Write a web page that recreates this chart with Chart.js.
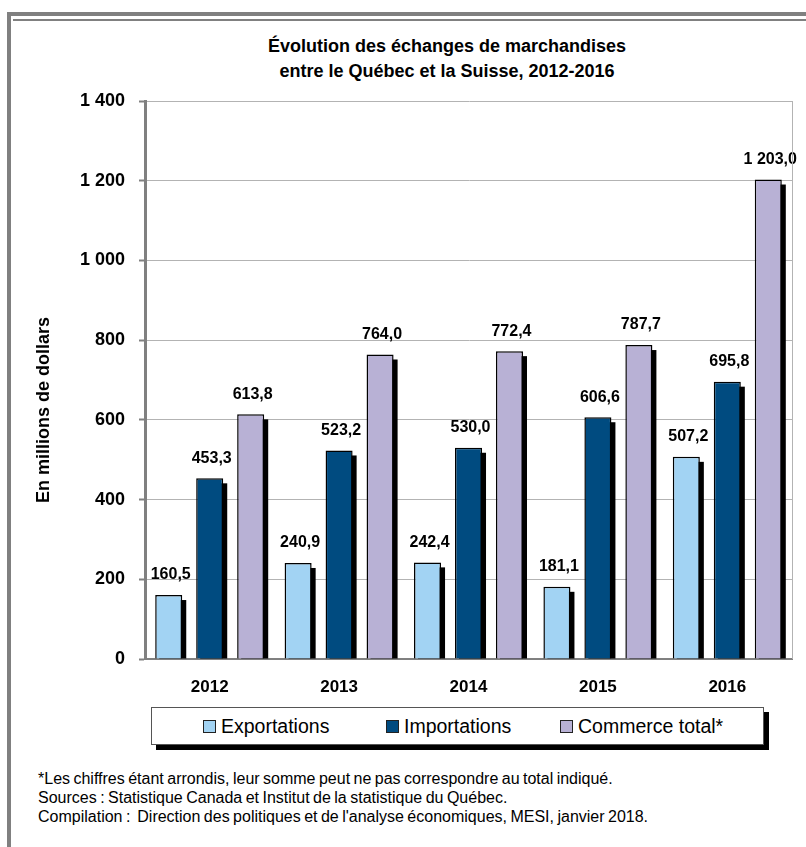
<!DOCTYPE html>
<html lang="fr">
<head>
<meta charset="utf-8">
<script src="https://cdn.jsdelivr.net/npm/chart.js@4.4.1/dist/chart.umd.min.js"></script>
<style>
  html, body { margin: 0; padding: 0; background: #fff; }
  body { width: 806px; height: 847px; position: relative; overflow: hidden;
         font-family: "Liberation Sans", Arial, sans-serif; color: #000; }
  #frameOuter { position: absolute; left: 7px; top: 12px; width: 820px; height: 850px;
                border-left: 4px solid #808080; border-top: 4px solid #808080; }
  #frameInner { position: absolute; left: 13px; top: 19px; width: 800px; height: 0;
                border-top: 2px solid #808080; }
  #title { position: absolute; left: 0; width: 894px; top: 34px; text-align: center;
           font-weight: bold; font-size: 18px; line-height: 25px; }
  #chartWrap { position: absolute; left: 0; top: 0; width: 806px; height: 700px; }
  #legend { position: absolute; left: 151px; top: 707px; width: 611px; height: 36px;
            border: 1px solid #555; background: #fff; box-shadow: 5px 5px 0 #000; }
  .lg { position: absolute; top: 0; height: 36px; display: flex; align-items: center;
        font-size: 19.5px; white-space: nowrap; }
  .lg span.m { display: inline-block; width: 11px; height: 11px; border: 1px solid #222;
               margin-right: 5px; }
  #notes { position: absolute; left: 38px; top: 769px; font-size: 16px; line-height: 19px;
           word-spacing: -1px; white-space: nowrap; }
</style>
</head>
<body>
<div id="frameOuter"></div>
<div id="frameInner"></div>
<div id="title">Évolution des échanges de marchandises<br>entre le Québec et la Suisse, 2012-2016</div>
<div id="chartWrap"><canvas id="c" width="806" height="700"></canvas></div>
<div id="legend"></div>
<div id="notes">*Les chiffres étant arrondis, leur somme peut ne pas correspondre au total indiqué.<br>Sources&nbsp;: Statistique Canada et Institut de la statistique du Québec.<br>Compilation&nbsp;:&nbsp; Direction des politiques et de l'analyse économiques, MESI, janvier 2018.</div>
<script>
const categories = ['2012', '2013', '2014', '2015', '2016'];
const seriesNames = ['Exportations', 'Importations', 'Commerce total*'];
const exportations = [160.5, 240.9, 242.4, 181.1, 507.2];
const importations = [453.3, 523.2, 530.0, 606.6, 695.8];
const commerceTotal = [613.8, 764.0, 772.4, 787.7, 1203.0];
const yAxisTitle = 'En millions de dollars';

const colors = ['#a2d3f3', '#004b80', '#b8b1d5'];
const FONT = '"Liberation Sans", Arial, sans-serif';

function fr(v, dec) {
  const s = Number(v).toFixed(dec);
  let parts = s.split('.');
  let i = parts[0].replace(/\B(?=(\d{3})+(?!\d))/g, ' ');
  return parts.length > 1 ? i + ',' + parts[1] : i;
}

const shadowPlugin = {
  id: 'barShadow',
  beforeDatasetsDraw(chart) {
    const ctx = chart.ctx;
    ctx.save();
    ctx.fillStyle = '#000';
    chart.data.datasets.forEach((ds, di) => {
      chart.getDatasetMeta(di).data.forEach(el => {
        const w = el.width;
        ctx.fillRect(el.x - w / 2 + 4, el.y + 5, w, el.base - el.y - 5);
      });
    });
    ctx.restore();
  }
};

const labelPlugin = {
  id: 'valueLabels',
  afterDatasetsDraw(chart) {
    const ctx = chart.ctx;
    ctx.save();
    ctx.font = 'bold 16px ' + FONT;
    ctx.fillStyle = '#000';
    ctx.textAlign = 'center';
    ctx.textBaseline = 'middle';
    chart.data.datasets.forEach((ds, di) => {
      chart.getDatasetMeta(di).data.forEach((el, i) => {
        ctx.fillText(fr(ds.data[i], 1), el.x + 2, el.y - 20);
      });
    });
    ctx.restore();
  },
  afterDraw(chart) {
    const ctx = chart.ctx;
    const a = chart.chartArea;
    ctx.save();
    ctx.strokeStyle = '#b3b3b3';
    ctx.lineWidth = 1;
    ctx.beginPath();
    ctx.moveTo(a.right + 0.5, a.top);
    ctx.lineTo(a.right + 0.5, a.bottom);
    ctx.stroke();
    ctx.translate(44, 410);
    ctx.rotate(-Math.PI / 2);
    ctx.font = 'bold 18px ' + FONT;
    ctx.fillStyle = '#000';
    ctx.textAlign = 'center';
    ctx.textBaseline = 'middle';
    ctx.fillText(yAxisTitle, 0, 0);
    ctx.restore();
  }
};

const seriesData = [exportations, importations, commerceTotal];

const chart = new Chart(document.getElementById('c'), {
  type: 'bar',
  data: {
    labels: categories,
    datasets: seriesNames.map((n, k) => ({
      label: n,
      data: seriesData[k],
      backgroundColor: colors[k],
      borderColor: '#000',
      borderWidth: 1.5,
      categoryPercentage: 0.95,
      barPercentage: 0.66
    }))
  },
  options: {
    responsive: false,
    animation: false,
    devicePixelRatio: 1,
    layout: { padding: { top: 101, right: 14, left: 0, bottom: 0 } },
    plugins: {
      legend: { display: false },
      title: { display: false },
      tooltip: { enabled: false }
    },
    scales: {
      x: {
        afterFit(s) { s.height = 41; },
        grid: { display: false, drawTicks: false },
        border: { color: '#808080', width: 2 },
        ticks: { color: '#000', padding: 18, font: { family: FONT, size: 17, weight: 'bold' } }
      },
      y: {
        min: 0, max: 1400,
        afterFit(s) { s.width = 145; },
        grid: { color: '#b3b3b3', lineWidth: 1, tickLength: 6, tickColor: '#808080', tickWidth: 2 },
        border: { color: '#808080', width: 3 },
        ticks: {
          stepSize: 200, color: '#000', padding: 14,
          font: { family: FONT, size: 18, weight: 'bold' },
          callback: v => fr(v, 0)
        }
      }
    }
  },
  plugins: [shadowPlugin, labelPlugin]
});

const lg = document.getElementById('legend');
const itemLeft = [51, 234, 408];
chart.data.datasets.forEach((ds, k) => {
  const d = document.createElement('div');
  d.className = 'lg';
  d.style.left = itemLeft[k] + 'px';
  const m = document.createElement('span');
  m.className = 'm';
  m.style.background = ds.backgroundColor;
  d.appendChild(m);
  d.appendChild(document.createTextNode(ds.label));
  lg.appendChild(d);
});
</script>
</body>
</html>
